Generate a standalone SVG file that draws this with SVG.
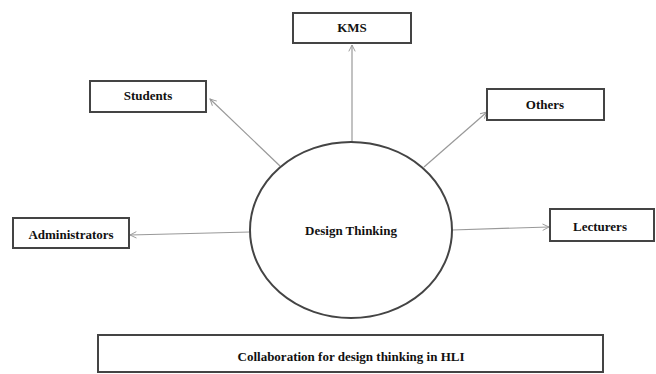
<svg xmlns="http://www.w3.org/2000/svg" width="656" height="374" viewBox="0 0 656 374">
<defs>
<style>
.box{fill:#fff;stroke:#444;stroke-width:2}
.lbl{font-family:"Liberation Serif","Times New Roman",serif;font-weight:bold;font-size:13px;fill:#111;text-anchor:middle}
.conn{stroke:#999;stroke-width:1.2;fill:none;marker-end:url(#arr)}
</style>
<marker id="arr" viewBox="0 0 10 10" refX="9" refY="5" markerWidth="8" markerHeight="8" orient="auto" markerUnits="userSpaceOnUse">
<path d="M1,1 L9,5 L1,9" fill="none" stroke="#999" stroke-width="1.2"/>
</marker>
</defs>
<rect width="656" height="374" fill="#fff"/>
<g id="connectors">
<line class="conn" x1="352" y1="142" x2="352" y2="45"/>
<line class="conn" x1="280" y1="166" x2="210" y2="99"/>
<line class="conn" x1="424" y1="167" x2="487" y2="112"/>
<line class="conn" x1="250" y1="232" x2="130" y2="235"/>
<line class="conn" x1="452" y1="230" x2="549" y2="227"/>
</g>
<g id="design-thinking">
<ellipse cx="351" cy="230" rx="101" ry="88" fill="#fff" stroke="#444" stroke-width="2"/>
<text class="lbl" x="351" y="235">Design Thinking</text>
</g>
<g id="kms">
<rect class="box" x="293" y="13" width="118" height="30"/>
<text class="lbl" x="352" y="32">KMS</text>
</g>
<g id="students">
<rect class="box" x="90" y="81" width="116" height="31"/>
<text class="lbl" x="148" y="100">Students</text>
</g>
<g id="others">
<rect class="box" x="487" y="89" width="117" height="31"/>
<text class="lbl" x="545" y="109">Others</text>
</g>
<g id="administrators">
<rect class="box" x="13" y="218" width="116" height="30"/>
<text class="lbl" x="71" y="239">Administrators</text>
</g>
<g id="lecturers">
<rect class="box" x="550" y="209" width="104" height="32"/>
<text class="lbl" x="600" y="231">Lecturers</text>
</g>
<g id="caption">
<rect class="box" x="98" y="335" width="505" height="37"/>
<text class="lbl" x="351" y="361">Collaboration for design thinking in HLI</text>
</g>
</svg>
